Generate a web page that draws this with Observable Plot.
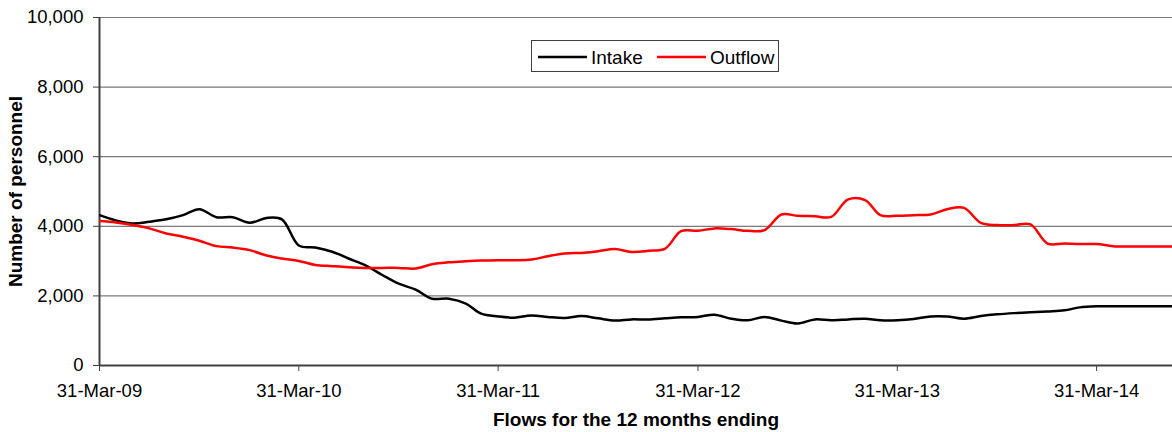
<!DOCTYPE html>
<html>
<head>
<meta charset="utf-8">
<script src="https://cdn.jsdelivr.net/npm/d3@7"></script>
<script src="https://cdn.jsdelivr.net/npm/@observablehq/plot@0.6"></script>
<style>
  html, body { margin: 0; padding: 0; background: #fff; }
  #wrap { position: relative; width: 1172px; height: 432px; font-family: "Liberation Sans", Arial, sans-serif; }
  #legend { position: absolute; left: 531px; top: 40px; width: 248px; height: 32px; border: 1px solid #404040; background: #fff; box-sizing: border-box; }
</style>
</head>
<body>
<div id="wrap"></div>
<script>
const monthEnds = [
  "2009-03-31","2009-04-30","2009-05-31","2009-06-30","2009-07-31","2009-08-31","2009-09-30","2009-10-31","2009-11-30","2009-12-31",
  "2010-01-31","2010-02-28","2010-03-31","2010-04-30","2010-05-31","2010-06-30","2010-07-31","2010-08-31","2010-09-30","2010-10-31","2010-11-30","2010-12-31",
  "2011-01-31","2011-02-28","2011-03-31","2011-04-30","2011-05-31","2011-06-30","2011-07-31","2011-08-31","2011-09-30","2011-10-31","2011-11-30","2011-12-31",
  "2012-01-31","2012-02-29","2012-03-31","2012-04-30","2012-05-31","2012-06-30","2012-07-31","2012-08-31","2012-09-30","2012-10-31","2012-11-30","2012-12-31",
  "2013-01-31","2013-02-28","2013-03-31","2013-04-30","2013-05-31","2013-06-30","2013-07-31","2013-08-31","2013-09-30","2013-10-31","2013-11-30","2013-12-31",
  "2014-01-31","2014-02-28","2014-03-31","2014-04-30","2014-05-31","2014-06-30","2014-07-31","2014-08-31"
];
const intake = [
  4320, 4170, 4080, 4130, 4200, 4320, 4490, 4260, 4260, 4100, 4240, 4200,
  3450, 3390, 3270, 3075, 2880, 2600, 2350, 2180, 1920, 1920, 1780, 1490,
  1410, 1375, 1440, 1395, 1365, 1420, 1355, 1290, 1325, 1320, 1355, 1385,
  1395, 1460, 1345, 1300, 1395, 1290, 1210, 1325, 1300, 1325, 1345, 1300,
  1300, 1335, 1410, 1410, 1345, 1420, 1470, 1505, 1530, 1555, 1585, 1670,
  1700, 1700, 1700, 1700, 1700, 1700
];
const outflow = [
  4150, 4110, 4035, 3940, 3795, 3700, 3585, 3430, 3390, 3315, 3160, 3075,
  3005, 2890, 2855, 2825, 2805, 2805, 2805, 2785, 2910, 2965, 2995, 3015,
  3025, 3025, 3045, 3140, 3220, 3235, 3285, 3345, 3265, 3295, 3360, 3860,
  3870, 3940, 3920, 3870, 3890, 4340, 4300, 4290, 4270, 4775, 4755, 4320,
  4300, 4320, 4340, 4490, 4530, 4100, 4035, 4035, 4055, 3505, 3505, 3490,
  3490, 3430, 3420, 3420, 3420, 3420
];
const seriesNames = ["Intake", "Outflow"];
const seriesColors = ["#000000", "#ff0000"];
const tickDates = ["2009-03-31","2010-03-31","2011-03-31","2012-03-31","2013-03-31","2014-03-31"];
const tickLabels = ["31-Mar-09","31-Mar-10","31-Mar-11","31-Mar-12","31-Mar-13","31-Mar-14"];
const yTicks = [0, 2000, 4000, 6000, 8000, 10000];
const xDomain = ["2009-03-31", "2014-08-17"];
const yTitle = "Number of personnel";
const xTitle = "Flows for the 12 months ending";

const parse = s => new Date(s + "T00:00:00Z");
const data = [];
monthEnds.forEach((d, i) => {
  data.push({date: parse(d), value: intake[i], series: seriesNames[0]});
});
monthEnds.forEach((d, i) => {
  data.push({date: parse(d), value: outflow[i], series: seriesNames[1]});
});
const tickDateObjs = tickDates.map(parse);
const labelByTime = new Map(tickDateObjs.map((d, i) => [+d, tickLabels[i]]));
const fmt = d3.format(",");

const chart = Plot.plot({
  width: 1172,
  height: 432,
  marginLeft: 99,
  marginRight: 0,
  marginTop: 17,
  marginBottom: 67,
  style: {fontFamily: "'Liberation Sans', Arial, sans-serif", fontSize: "18.5px", background: "#fff", color: "#000"},
  x: {type: "utc", domain: xDomain.map(parse)},
  y: {domain: [0, 10000]},
  color: {domain: seriesNames, range: seriesColors},
  marks: [
    Plot.gridY(yTicks, {stroke: "#7a7a7a", strokeOpacity: 1, strokeWidth: 1.2}),
    Plot.ruleY([0], {stroke: "#404040", strokeWidth: 2}),
    Plot.ruleX([parse(xDomain[0])], {stroke: "#404040", strokeWidth: 2}),
    Plot.line(data, {x: "date", y: "value", z: "series", stroke: "series", curve: "catmull-rom", strokeWidth: 2.5, clip: true}),
    Plot.axisY({ticks: yTicks, tickFormat: fmt, tickSize: 6, tickPadding: 10, label: null, stroke: "#404040", fill: "#000"}),
    Plot.axisX({ticks: tickDateObjs, tickFormat: d => labelByTime.get(+d), tickSize: 6, tickPadding: 12, label: null, stroke: "#404040", fill: "#000"}),
    Plot.text([yTitle], {frameAnchor: "left", textAnchor: "middle", lineAnchor: "middle", dx: -84, rotate: -90, fontWeight: "bold", fontSize: 19, fill: "#000"}),
    Plot.text([xTitle], {frameAnchor: "bottom", textAnchor: "middle", lineAnchor: "middle", dy: 54, fontWeight: "bold", fontSize: 19, fill: "#000"})
  ]
});
const wrap = document.getElementById("wrap");
wrap.appendChild(chart);

const legend = document.createElement("div");
legend.id = "legend";
const ns = "http://www.w3.org/2000/svg";
const lsvg = document.createElementNS(ns, "svg");
lsvg.setAttribute("width", "246");
lsvg.setAttribute("height", "30");
lsvg.style.display = "block";
const items = [{x0: 6, x1: 55, tx: 59}, {x0: 125, x1: 174, tx: 178}];
seriesNames.forEach((name, i) => {
  const ln = document.createElementNS(ns, "line");
  ln.setAttribute("x1", items[i].x0); ln.setAttribute("x2", items[i].x1);
  ln.setAttribute("y1", 16); ln.setAttribute("y2", 16);
  ln.setAttribute("stroke", seriesColors[i]); ln.setAttribute("stroke-width", 2.5);
  lsvg.appendChild(ln);
  const tx = document.createElementNS(ns, "text");
  tx.setAttribute("x", items[i].tx); tx.setAttribute("y", 22.5);
  tx.setAttribute("font-size", "19px");
  tx.setAttribute("font-family", "'Liberation Sans', Arial, sans-serif");
  tx.textContent = name;
  lsvg.appendChild(tx);
});
legend.appendChild(lsvg);
wrap.appendChild(legend);
</script>
</body>
</html>
